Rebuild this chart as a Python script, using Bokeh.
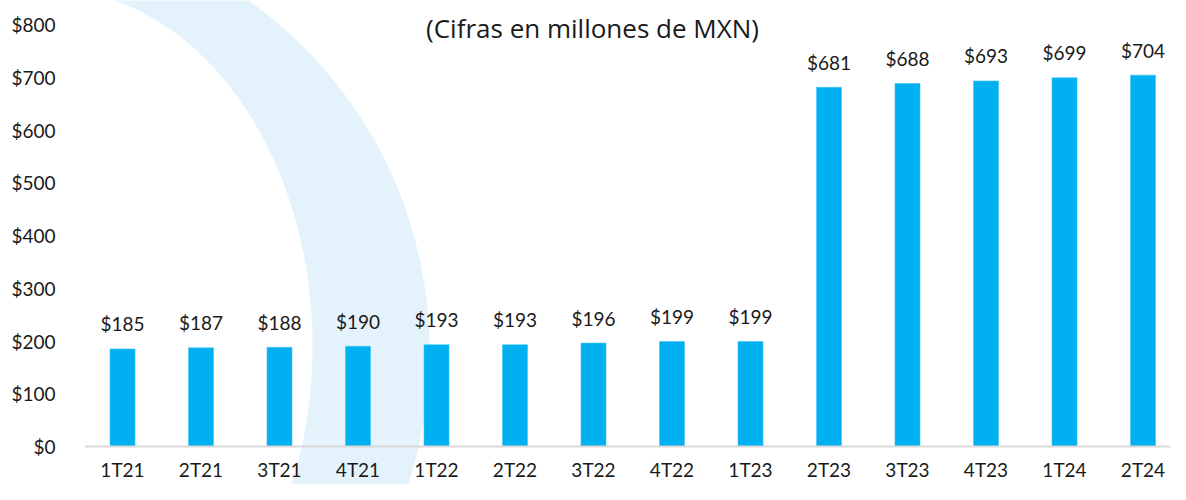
import numpy as np
from bokeh.plotting import figure
from bokeh.models import (Range1d, FixedTicker, NumeralTickFormatter, Label,
                          PolyAnnotation, ColumnDataSource)
from bokeh.core.properties import value
from bokeh.embed import file_html
from bokeh.resources import INLINE

# ---- data ----
categories = ["1T21", "2T21", "3T21", "4T21", "1T22", "2T22", "3T22", "4T22",
              "1T23", "2T23", "3T23", "4T23", "1T24", "2T24"]
values = [185, 187, 188, 190, 193, 193, 196, 199, 199, 681, 688, 693, 699, 704]
value_labels = ["$" + str(v) for v in values]
y_ticks = [0, 100, 200, 300, 400, 500, 600, 700, 800]
title_text = "(Cifras en millones de MXN)"

# ---- layout (pixels) ----
W, H = 1170, 484
LEFT = 84                 # frame left edge
STEP = 78.5               # px per category
FIRST = 122.0             # px centre of first category
ZERO_Y = 446.0            # px of value 0
TOP_Y = 24.0              # px of value 800
PPU = (ZERO_Y - TOP_Y) / 800.0

X0 = -(FIRST - LEFT) / STEP
X1 = X0 + (W - LEFT) / STEP
Y1 = ZERO_Y / PPU
Y0 = -(H - ZERO_Y) / PPU

FONT = "Lato"
BLUE = "#00B0F0"

p = figure(width=W, height=H, output_backend="svg", toolbar_location=None,
           x_range=Range1d(X0, X1), y_range=Range1d(Y0, Y1),
           min_border_left=LEFT, min_border_bottom=0,
           min_border_top=0, min_border_right=0)
p.outline_line_color = None
p.grid.visible = False
p.background_fill_color = "white"
p.border_fill_color = "white"


def to_data(fx, fy):
    return X0 + (np.asarray(fx) - LEFT) / STEP, (ZERO_Y - np.asarray(fy)) / PPU


# decorative light-blue arc in the background
ys = np.linspace(-10, 500, 140)
outer_x = 0 + np.sqrt(np.clip(429.0**2 - (ys - 350.0)**2, 0, None))
inner_x = 46 + 266.0 * np.sqrt(np.clip(1 - ((ys - 345.0) / 357.0)**2, 0, None))
poly_fx = np.concatenate([outer_x, inner_x[::-1]])
poly_fy = np.concatenate([ys, ys[::-1]])
dx, dy = to_data(poly_fx, poly_fy)
p.add_layout(PolyAnnotation(xs=list(dx), ys=list(dy), fill_color="#E4F3FB",
                            fill_alpha=1.0, line_color=None, level="underlay"))

src = ColumnDataSource(dict(x=list(range(len(categories))), top=values,
                            label=value_labels))
p.vbar(x="x", top="top", width=25 / STEP, bottom=0, source=src,
       fill_color=BLUE, line_color="#3FC3F3", line_width=0.6)

p.text(x="x", y="top", text="label", source=src, text_align="center",
       text_baseline="alphabetic", y_offset=-25, text_font=value(FONT),
       text_font_size="19px", text_color="#1a1a1a")

# axes
xa = p.xaxis[0]
xa.fixed_location = 0
xa.ticker = FixedTicker(ticks=list(range(len(categories))))
xa.major_label_overrides = {i: c for i, c in enumerate(categories)}
xa.axis_line_color = "#D9D9D9"
xa.axis_line_width = 2
xa.major_tick_line_color = None
xa.minor_tick_line_color = None
xa.major_tick_out = 0
xa.major_tick_in = 0
xa.minor_tick_out = 0
xa.major_label_standoff = 11
xa.major_label_text_font = FONT
xa.major_label_text_font_size = "19px"
xa.major_label_text_color = "#1a1a1a"

ya = p.yaxis[0]
ya.ticker = FixedTicker(ticks=y_ticks)
ya.formatter = NumeralTickFormatter(format="$0")
ya.axis_line_color = None
ya.major_tick_line_color = None
ya.minor_tick_line_color = None
ya.major_tick_out = 0
ya.major_tick_in = 0
ya.minor_tick_out = 0
ya.major_label_standoff = 29
ya.major_label_text_font = FONT
ya.major_label_text_font_size = "19px"
ya.major_label_text_color = "#1a1a1a"

tx, ty = to_data(592, 27)
p.add_layout(Label(x=float(tx), y=float(ty), text=title_text, text_align="center",
                   text_baseline="middle", text_font="Open Sans",
                   text_font_size="26px", text_color="#1a1a1a"))

open("out.html", "w").write(file_html(p, INLINE))
